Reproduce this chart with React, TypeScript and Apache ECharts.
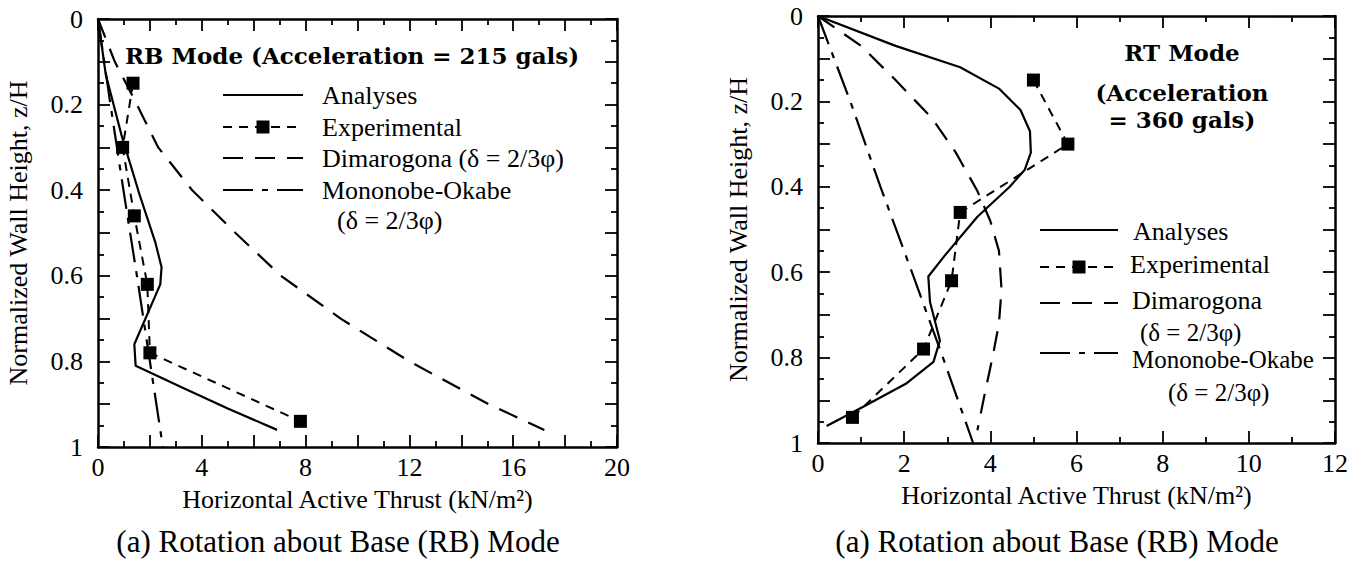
import React, { useEffect, useRef } from "react";
import * as echarts from "echarts";

// ---------- data ----------
// (a) RB mode, left chart
const rbAnalysesX = [0, 0.3, 0.9, 1.6, 2.2, 2.45, 2.4, 1.4, 1.45, 3.2, 5.0, 6.9];
const rbAnalysesZ = [0, 0.13, 0.27, 0.41, 0.52, 0.58, 0.62, 0.76, 0.81, 0.86, 0.91, 0.96];
const rbExpX = [1.35, 0.95, 1.4, 1.9, 2.0, 7.8];
const rbExpZ = [0.15, 0.3, 0.46, 0.62, 0.78, 0.94];
const rbDimX = [0, 0.65, 1.5, 2.32, 3.63, 5.3, 7.05, 9.35, 12.0, 15.05, 17.2];
const rbDimZ = [0, 0.1, 0.2, 0.3, 0.4, 0.5, 0.6, 0.7, 0.8, 0.9, 0.96];
const rbMoX = [0, 0.48, 0.98, 1.5, 2.0, 2.5];
const rbMoZ = [0, 0.2, 0.4, 0.6, 0.8, 1.0];

// RT mode, right chart
const rtAnalysesX = [0, 1.8, 3.3, 4.2, 4.7, 4.92, 4.94, 4.8, 4.45, 3.7, 2.95, 2.56, 2.6, 2.83, 2.68, 2.06, 1.05, 0.2];
const rtAnalysesZ = [0, 0.07, 0.12, 0.17, 0.22, 0.27, 0.32, 0.36, 0.4, 0.47, 0.56, 0.61, 0.67, 0.76, 0.81, 0.86, 0.915, 0.96];
const rtExpX = [5.0, 5.8, 3.3, 3.1, 2.45, 0.8];
const rtExpZ = [0.15, 0.3, 0.46, 0.62, 0.78, 0.94];
const rtDimX = [0, 1.0, 1.8, 2.65, 3.2, 3.7, 4.0, 4.2, 4.26, 4.2, 4.05, 3.9, 3.78, 3.7];
const rtDimZ = [0, 0.07, 0.15, 0.24, 0.32, 0.41, 0.48, 0.55, 0.64, 0.72, 0.8, 0.87, 0.93, 0.97];
const rtMoX = [0, 0.75, 1.45, 2.18, 2.9, 3.6];
const rtMoZ = [0, 0.2, 0.4, 0.6, 0.8, 1.0];

// axis ranges / labels
const rbXMax = 20;
const rtXMax = 12;
const xName = "Horizontal Active Thrust (kN/m²)";
const yName = "Normalized Wall Height, z/H";
const rbTitle = "RB Mode (Acceleration = 215 gals)";
const rtTitleLines = ["RT Mode", "(Acceleration", "= 360 gals)"];
const caption = "(a) Rotation about Base (RB) Mode";
const legendNames = ["Analyses", "Experimental", "Dimarogona", "Mononobe-Okabe"];
const deltaNote = "(δ = 2/3φ)";

// ---------- styles ----------
const SERIF = "Liberation Serif";
const BOLD_SERIF = "DejaVu Serif";
const BLACK = "#000";
const DASH_EXP = [9, 7];
const DASH_DIM = [20, 12];
const DASH_MO = [30, 9, 6, 9];

const zip = (xs: number[], zs: number[]) => xs.map((x, i) => [x, zs[i]]);

const fmtZ = (v: number) => {
  const k = Math.round(v * 10);
  if (Math.abs(v * 10 - k) > 1e-6 || k % 2 !== 0) return "";
  return String(k / 10);
};

const axisFont = { fontSize: 26, fontFamily: SERIF, color: BLACK };

function xAxes(grid: number, max: number, labelEvery: number, nameStr: string) {
  const common = {
    gridIndex: grid,
    type: "value",
    min: 0,
    max,
    interval: 2,
    axisLine: { show: true, onZero: false, lineStyle: { color: BLACK, width: 2.5 } },
    axisTick: { show: true, inside: true, length: 12, lineStyle: { color: BLACK, width: 1.8 } },
    minorTick: { show: true, splitNumber: 2, length: 6, lineStyle: { color: BLACK, width: 1.8 } },
    splitLine: { show: false },
    minorSplitLine: { show: false },
  };
  return [
    {
      ...common,
      position: "bottom",
      axisLabel: {
        show: true,
        margin: 7,
        ...axisFont,
        formatter: (v: number) => (Math.round(v) % labelEvery === 0 ? String(Math.round(v)) : ""),
      },
      name: nameStr,
      nameLocation: "middle",
      nameGap: 39,
      nameTextStyle: { ...axisFont },
    },
    { ...common, position: "top", axisLabel: { show: false } },
  ];
}

function yAxes(grid: number) {
  const common = {
    gridIndex: grid,
    type: "value",
    inverse: true,
    min: 0,
    max: 1,
    interval: 0.1,
    axisLine: { show: true, onZero: false, lineStyle: { color: BLACK, width: 2.5 } },
    axisTick: { show: true, inside: true, length: 12, lineStyle: { color: BLACK, width: 1.8 } },
    minorTick: { show: true, splitNumber: 2, length: 6, lineStyle: { color: BLACK, width: 1.8 } },
    splitLine: { show: false },
    minorSplitLine: { show: false },
  };
  return [
    {
      ...common,
      position: "left",
      axisLabel: { show: true, margin: 15, ...axisFont, formatter: fmtZ },
      name: yName,
      nameLocation: "middle",
      nameGap: 67,
      nameTextStyle: { ...axisFont },
    },
    { ...common, position: "right", axisLabel: { show: false } },
  ];
}

function seriesFor(axisX: number, axisY: number, a: number[][], e: number[][], d: number[][], m: number[][]) {
  const base = { type: "line", xAxisIndex: axisX, yAxisIndex: axisY, smooth: false, silent: true };
  return [
    { ...base, name: legendNames[0], data: a, symbol: "none", lineStyle: { color: BLACK, width: 2.2, type: "solid" } },
    { ...base, name: legendNames[2], data: d, symbol: "none", lineStyle: { color: BLACK, width: 2.2, type: DASH_DIM } },
    { ...base, name: legendNames[3], data: m, symbol: "none", lineStyle: { color: BLACK, width: 2.2, type: DASH_MO } },
    {
      ...base,
      name: legendNames[1],
      data: e,
      symbol: "rect",
      symbolSize: 13,
      showSymbol: true,
      itemStyle: { color: BLACK },
      lineStyle: { color: BLACK, width: 2, type: DASH_EXP },
    },
  ];
}

function txt(text: string, x: number, y: number, size: number, opts: any = {}) {
  const align = opts.align || "left";
  return {
    type: "text",
    x,
    y,
    silent: true,
    style: {
      text,
      fontSize: size,
      fontFamily: opts.family || SERIF,
      fontWeight: opts.weight || "normal",
      fill: BLACK,
      align,
      verticalAlign: "middle",
    },
  };
}

function legendLine(x1: number, x2: number, y: number, dash: number[] | null) {
  return {
    type: "line",
    silent: true,
    shape: { x1, y1: y, x2, y2: y },
    style: { stroke: BLACK, lineWidth: 2.2, lineDash: dash || null },
  };
}

function legendRect(cx: number, cy: number) {
  return { type: "rect", silent: true, shape: { x: cx - 6.5, y: cy - 6.5, width: 13, height: 13 }, style: { fill: BLACK } };
}

export default function App() {
  const ref = useRef<HTMLDivElement>(null);
  useEffect(() => {
    if (!ref.current) return;
    const chart = echarts.init(ref.current, null, { renderer: "svg" });
    const graphics: any[] = [
      // left title + legend
      txt(rbTitle, 125, 55, 23, { family: BOLD_SERIF, weight: "bold" }),
      legendLine(223, 303, 95, null),
      txt(legendNames[0], 322, 95, 26),
      legendLine(223, 303, 127, DASH_EXP),
      legendRect(263, 127),
      txt(legendNames[1], 322, 127, 26),
      legendLine(223, 303, 158, DASH_DIM),
      txt(legendNames[2] + " " + deltaNote, 322, 158, 26),
      legendLine(223, 303, 190, DASH_MO),
      txt(legendNames[3], 322, 190, 26),
      txt(deltaNote, 337, 220, 26),
      // right title + legend
      txt(rtTitleLines[0], 1182, 52, 23, { family: BOLD_SERIF, weight: "bold", align: "center" }),
      txt(rtTitleLines[1], 1182, 92, 23, { family: BOLD_SERIF, weight: "bold", align: "center" }),
      txt(rtTitleLines[2], 1182, 119, 23, { family: BOLD_SERIF, weight: "bold", align: "center" }),
      legendLine(1040, 1118, 230, null),
      txt(legendNames[0], 1133, 231, 26),
      legendLine(1040, 1118, 267, DASH_EXP),
      legendRect(1079, 267),
      txt(legendNames[1], 1130, 264, 26),
      legendLine(1040, 1118, 303, DASH_DIM),
      txt(legendNames[2], 1132, 300, 26),
      txt(deltaNote, 1140, 332, 25),
      legendLine(1040, 1118, 353, DASH_MO),
      txt(legendNames[3], 1132, 359, 25),
      txt(deltaNote, 1168, 392, 25),
      // captions
      txt(caption, 338, 541, 31, { align: "center" }),
      txt(caption, 1057, 541, 31, { align: "center" }),
    ];
    chart.setOption({
      animation: false,
      backgroundColor: "#fff",
      grid: [
        { left: 98, top: 19, width: 519, height: 428, containLabel: false },
        { left: 818, top: 16, width: 517, height: 427, containLabel: false },
      ],
      xAxis: [...xAxes(0, rbXMax, 4, xName), ...xAxes(1, rtXMax, 2, xName)],
      yAxis: [...yAxes(0), ...yAxes(1)],
      series: [
        ...seriesFor(0, 0, zip(rbAnalysesX, rbAnalysesZ), zip(rbExpX, rbExpZ), zip(rbDimX, rbDimZ), zip(rbMoX, rbMoZ)),
        ...seriesFor(2, 2, zip(rtAnalysesX, rtAnalysesZ), zip(rtExpX, rtExpZ), zip(rtDimX, rtDimZ), zip(rtMoX, rtMoZ)),
      ],
      graphic: { elements: graphics },
    });
    // safety net: make sure every axis text uses the serif face
    ref.current.querySelectorAll("text").forEach((t) => {
      const el = t as SVGTextElement;
      const fam = el.style.fontFamily || "";
      if (!fam || /sans-serif/i.test(fam)) el.style.fontFamily = SERIF;
    });
    return () => chart.dispose();
  }, []);
  return (
    <div
      ref={ref}
      style={{ position: "absolute", left: 0, top: 0, width: 1365, height: 569, background: "#fff" }}
    />
  );
}
